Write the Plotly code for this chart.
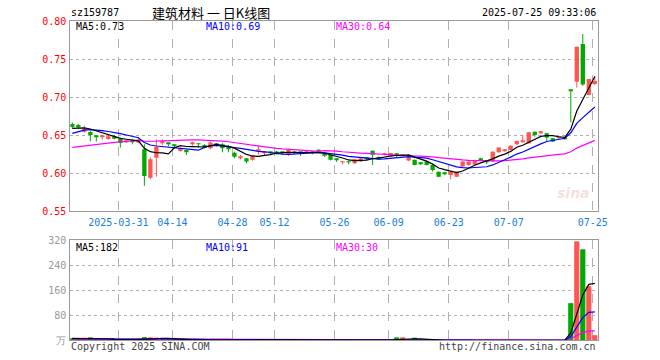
import plotly.graph_objects as go
import pandas as pd

# ---------------- data ----------------
dates = [
    "2025-03-19", "2025-03-20", "2025-03-21", "2025-03-24", "2025-03-25", "2025-03-26", "2025-03-27", "2025-03-28", "2025-03-31",
    "2025-04-01", "2025-04-02", "2025-04-03", "2025-04-07", "2025-04-08", "2025-04-09", "2025-04-10", "2025-04-11",
    "2025-04-14", "2025-04-15", "2025-04-16", "2025-04-17", "2025-04-18", "2025-04-21", "2025-04-22", "2025-04-23",
    "2025-04-24", "2025-04-25", "2025-04-28", "2025-04-29", "2025-04-30",
    "2025-05-06", "2025-05-07", "2025-05-08", "2025-05-09", "2025-05-12", "2025-05-13", "2025-05-14", "2025-05-15",
    "2025-05-16", "2025-05-19", "2025-05-20", "2025-05-21", "2025-05-22", "2025-05-23", "2025-05-26", "2025-05-27",
    "2025-05-28", "2025-05-29", "2025-05-30",
    "2025-06-03", "2025-06-04", "2025-06-05", "2025-06-06", "2025-06-09", "2025-06-10", "2025-06-11", "2025-06-12",
    "2025-06-13", "2025-06-16", "2025-06-17", "2025-06-18", "2025-06-19", "2025-06-20", "2025-06-23", "2025-06-24",
    "2025-06-25", "2025-06-26", "2025-06-27", "2025-06-30",
    "2025-07-01", "2025-07-02", "2025-07-03", "2025-07-04", "2025-07-07", "2025-07-08", "2025-07-09", "2025-07-10",
    "2025-07-11", "2025-07-14", "2025-07-15", "2025-07-16", "2025-07-17", "2025-07-18", "2025-07-21", "2025-07-22",
    "2025-07-23", "2025-07-24", "2025-07-25",
]

open_ = [0.665, 0.6636, 0.6548, 0.6545, 0.6482, 0.6478, 0.6452, 0.6487, 0.6456, 0.6413,
         0.6419, 0.6405, 0.6316, 0.594, 0.6206, 0.6399, 0.6388, 0.6367, 0.6294, 0.6307,
         0.6393, 0.6386, 0.6373, 0.6329, 0.6386, 0.6382, 0.6333, 0.6272, 0.6208, 0.6197,
         0.6177, 0.63, 0.6272, 0.627, 0.6288, 0.6268, 0.6257, 0.6285, 0.6275, 0.627,
         0.6272, 0.631, 0.6274, 0.6243, 0.618, 0.6145, 0.6148, 0.6133, 0.6155, 0.6192,
         0.6296, 0.6212, 0.625, 0.623, 0.6242, 0.6232, 0.6168, 0.6177, 0.6135, 0.6155,
         0.611, 0.6022, 0.6002, 0.5978, 0.5956, 0.6088, 0.611, 0.6115, 0.6186, 0.6158,
         0.6154, 0.6278, 0.63, 0.6307, 0.6382, 0.6415, 0.6395, 0.6548, 0.6538, 0.6526,
         0.646, 0.6468, 0.6462, 0.7092, 0.7206, 0.77, 0.703, 0.7175]

high = [0.667, 0.665, 0.663, 0.6555, 0.6495, 0.6496, 0.6504, 0.6504, 0.647, 0.6434,
        0.6447, 0.647, 0.6382, 0.621, 0.6447, 0.6447, 0.6408, 0.6382, 0.634, 0.6316,
        0.6417, 0.6395, 0.6382, 0.6417, 0.6395, 0.6395, 0.6373, 0.6285, 0.6241, 0.62,
        0.6235, 0.6365, 0.629, 0.628, 0.6295, 0.6285, 0.6323, 0.629, 0.628, 0.629,
        0.6285, 0.6315, 0.628, 0.625, 0.62, 0.616, 0.6165, 0.619, 0.62, 0.6205,
        0.63, 0.622, 0.627, 0.627, 0.626, 0.6245, 0.6215, 0.618, 0.615, 0.616,
        0.6115, 0.6025, 0.6015, 0.603, 0.6025, 0.616, 0.617, 0.618, 0.6205, 0.6165,
        0.629, 0.634, 0.632, 0.637, 0.643, 0.6504, 0.6545, 0.655, 0.6555, 0.653,
        0.6465, 0.648, 0.647, 0.7092, 0.7667, 0.7833, 0.7241, 0.728]

low = [0.659, 0.658, 0.6535, 0.642, 0.6417, 0.6443, 0.6443, 0.6447, 0.6338, 0.6399,
       0.6382, 0.6395, 0.5835, 0.5925, 0.5956, 0.6373, 0.6356, 0.6329, 0.6285, 0.6241,
       0.6364, 0.6338, 0.6329, 0.6316, 0.6351, 0.6276, 0.6276, 0.6197, 0.6184, 0.6132,
       0.6165, 0.6245, 0.6232, 0.624, 0.625, 0.625, 0.623, 0.6255, 0.623, 0.6255,
       0.625, 0.6265, 0.6215, 0.617, 0.615, 0.612, 0.612, 0.6125, 0.615, 0.617,
       0.611, 0.618, 0.6235, 0.6225, 0.621, 0.6225, 0.616, 0.6105, 0.611, 0.6105,
       0.6022, 0.5947, 0.5975, 0.5921, 0.595, 0.608, 0.61, 0.611, 0.616, 0.612,
       0.615, 0.627, 0.6285, 0.63, 0.6375, 0.6405, 0.639, 0.648, 0.652, 0.6417,
       0.641, 0.6455, 0.644, 0.6671, 0.7126, 0.715, 0.703, 0.716]

close = [0.661, 0.661, 0.659, 0.6505, 0.6478, 0.6482, 0.6487, 0.6456, 0.64, 0.6417,
         0.6413, 0.6445, 0.5965, 0.6184, 0.6345, 0.6404, 0.6384, 0.6362, 0.6329, 0.6285,
         0.6397, 0.6382, 0.6338, 0.6404, 0.6378, 0.6329, 0.6328, 0.6219, 0.6212, 0.6154,
         0.6228, 0.6304, 0.6276, 0.6265, 0.6262, 0.6265, 0.631, 0.6268, 0.6272, 0.6274,
         0.627, 0.6274, 0.623, 0.6177, 0.6177, 0.6148, 0.6145, 0.6186, 0.6195, 0.6189,
         0.6243, 0.6186, 0.6252, 0.6266, 0.6239, 0.6238, 0.6212, 0.611, 0.613, 0.611,
         0.6044, 0.5956, 0.5998, 0.6022, 0.6022, 0.6154, 0.6154, 0.6175, 0.6184, 0.615,
         0.6285, 0.6338, 0.6303, 0.6364, 0.6425, 0.6418, 0.654, 0.6504, 0.6542, 0.647,
         0.6417, 0.6472, 0.6458, 0.7086, 0.7664, 0.717, 0.724, 0.7214]

# volume in 万 (ten-thousands)
volume = [6, 5, 7, 8, 2, 1.5, 2, 1, 3, 2,
          1.5, 4, 9, 8, 7, 5, 3, 1, 1.2, 0.8,
          1, 1.5, 0.7, 1.2, 0.9, 1, 1.3, 0.8, 1, 1.2,
          0.9, 1.1, 0.8, 1, 0.7, 0.9, 1.2, 0.8, 1, 0.9,
          1.1, 0.8, 1, 1.2, 0.9, 0.8, 1, 1.1, 0.9, 0.8,
          1.2, 0.9, 1, 0.8, 8, 8, 1, 7, 0.15, 0.1,
          0.15, 0.2, 0.1, 0.15, 0.1, 0.2, 0.15, 0.1, 0.15, 0.1,
          0.2, 0.15, 0.1, 0.15, 0.1, 0.2, 0.15, 0.1, 0.3, 0.3,
          0.3, 0.3, 0.3, 118, 315, 290, 172, 15]

# closes / volumes before the visible window (estimated from where the MA lines enter the chart)
prior_close = [0.630, 0.628, 0.626, 0.624, 0.622, 0.620, 0.619, 0.621, 0.623, 0.622,
               0.624, 0.626, 0.625, 0.627, 0.628, 0.626, 0.625, 0.627, 0.629, 0.628,
               0.636, 0.641, 0.646, 0.651, 0.657, 0.660, 0.656, 0.658, 0.660]
prior_volume = [3, 2, 4, 3, 2, 3, 5, 4, 3, 2, 3, 4, 2, 3, 5, 4, 3, 2, 3, 4,
                3, 5, 4, 6, 5, 6, 7, 5, 6]

tick_dates = ["2025-03-31", "2025-04-14", "2025-04-28", "2025-05-12", "2025-05-26",
              "2025-06-09", "2025-06-23", "2025-07-07", "2025-07-25"]
tick_labels = ["2025-03-31", "04-14", "04-28", "05-12", "05-26", "06-09", "06-23", "07-07", "07-25"]
price_ticks = [0.55, 0.60, 0.65, 0.70, 0.75, 0.80]
volume_ticks = [0, 80, 160, 240, 320]
volume_tick_labels = ["万", "80", "160", "240", "320"]

# ---------------- derived ----------------
n = len(dates)
idx = list(range(n))


def moving(prior, vals, w):
    s = pd.Series(list(prior) + list(vals)).rolling(w).mean()
    return s.iloc[len(prior):].to_numpy()


ma5, ma10, ma30 = (moving(prior_close, close, w) for w in (5, 10, 30))
vma5, vma10, vma30 = (moving(prior_volume, volume, w) for w in (5, 10, 30))

RED = "#ff5555"
GREEN = "#00aa00"
up = [c >= o for o, c in zip(open_, close)]
colors = [RED if u else GREEN for u in up]
MONO = "DejaVu Sans Mono"
CJK = "Noto Sans CJK SC"

fig = go.Figure()

# wicks
for col, flag in ((RED, True), (GREEN, False)):
    wx, wy = [], []
    for i in idx:
        if up[i] == flag:
            wx += [i, i, None]
            wy += [low[i], high[i], None]
    fig.add_trace(go.Scatter(x=wx, y=wy, mode="lines", line=dict(color=col, width=1),
                             hoverinfo="skip", showlegend=False, xaxis="x", yaxis="y"))

# bodies
body_base = [min(o, c) for o, c in zip(open_, close)]
body_h = [max(abs(c - o), 0.0012) for o, c in zip(open_, close)]
fig.add_trace(go.Bar(x=idx, y=body_h, base=body_base, width=0.72,
                     marker=dict(color=colors, line=dict(width=0)),
                     showlegend=False, xaxis="x", yaxis="y"))

# price MAs
for vals, col in ((ma30, "#ff00ff"), (ma10, "#0000ff"), (ma5, "#000000")):
    fig.add_trace(go.Scatter(x=idx, y=vals, mode="lines", line=dict(color=col, width=1.2),
                             showlegend=False, xaxis="x", yaxis="y"))

# volume bars
fig.add_trace(go.Bar(x=idx, y=volume, width=0.72,
                     marker=dict(color=colors, line=dict(color=colors, width=0.8)),
                     showlegend=False, xaxis="x2", yaxis="y2"))
for vals, col in ((vma30, "#ff00ff"), (vma10, "#0000ff"), (vma5, "#000000")):
    fig.add_trace(go.Scatter(x=idx, y=vals, mode="lines", line=dict(color=col, width=1.2),
                             showlegend=False, xaxis="x2", yaxis="y2"))

tickvals = [dates.index(d) - 0.33 for d in tick_dates]
W, H = 660, 360
xdom = [70.3 / W, 598 / W]
xr = [-0.333, 87.53]

common_x = dict(range=xr, domain=xdom, showline=True, mirror=True, linecolor="#999999",
                linewidth=1, showgrid=True, gridcolor="#b0b0b0", griddash="dash", gridwidth=1,
                zeroline=False, tickmode="array", tickvals=tickvals, fixedrange=True,
                automargin=False)

fig.update_layout(
    width=W, height=H, autosize=False, margin=dict(l=0, r=0, t=0, b=0, pad=0),
    paper_bgcolor="white", plot_bgcolor="white", barmode="overlay", showlegend=False,
    xaxis=dict(common_x, anchor="y", ticktext=tick_labels, ticks="outside", ticklen=2,
               tickcolor="rgba(0,0,0,0)", tickfont=dict(family=MONO, size=10, color="#1a80dc")),
    yaxis=dict(domain=[(H - 211.3) / H, (H - 21.3) / H], range=[0.55, 0.80], anchor="x",
               showline=True, mirror=True, linecolor="#999999", linewidth=1, automargin=False,
               showgrid=True, gridcolor="#b0b0b0", griddash="dot", gridwidth=1, zeroline=False,
               tickmode="array", tickvals=price_ticks, ticktext=[f"{v:.2f}" for v in price_ticks],
               ticks="outside", ticklen=1, tickcolor="rgba(0,0,0,0)",
               tickfont=dict(family=MONO, size=10, color="#ff0000"), fixedrange=True),
    xaxis2=dict(common_x, anchor="y2", showticklabels=False),
    yaxis2=dict(domain=[(H - 340.3) / H, (H - 240.3) / H], range=[0, 320], anchor="x2",
                showline=True, mirror=True, linecolor="#999999", linewidth=1, automargin=False,
                showgrid=True, gridcolor="#b0b0b0", griddash="dot", gridwidth=1, zeroline=False,
                tickmode="array", tickvals=volume_ticks, ticktext=volume_tick_labels,
                ticks="outside", ticklen=1, tickcolor="rgba(0,0,0,0)",
                tickfont=dict(family=MONO, size=10, color="#999999"), fixedrange=True),
)


def txt(x, y, s, color="#000000", size=10, family=MONO, anchor="left"):
    fig.add_annotation(x=x / W, y=1 - y / H, xref="paper", yref="paper", text=s, showarrow=False,
                       xanchor=anchor, yanchor="middle", font=dict(family=family, size=size, color=color))


txt(69, 13, "sz159787")
txt(150, 13, "建筑材料 一 日K线图", size=13, family=CJK)
txt(598, 13, "2025-07-25 09:33:06", anchor="right")

txt(74, 27, f"MA5:{ma5[-1]:.2f}")
txt(204, 27, f"MA10:{ma10[-1]:.2f}", color="#0000ff")
txt(334, 27, f"MA30:{ma30[-1]:.2f}", color="#ff00ff")

txt(74, 247, f"MA5:{vma5[-1]:.0f}")
txt(204, 247, f"MA10:{vma10[-1]:.0f}", color="#0000ff")
txt(334, 247, f"MA30:{vma30[-1]:.0f}", color="#ff00ff")

txt(69, 346, "Copyright 2025 SINA.COM", color="#444444")
txt(598, 346, "http://finance.sina.com.cn", color="#444444", anchor="right")

txt(592, 193, "<i><b>sina</b></i>", color="rgba(225,140,140,0.28)", size=14, family="DejaVu Sans", anchor="right")

fig.write_html("out.html", config={"displayModeBar": False},
               post_script="document.body.style.margin='0px';document.body.style.overflow='hidden';")
